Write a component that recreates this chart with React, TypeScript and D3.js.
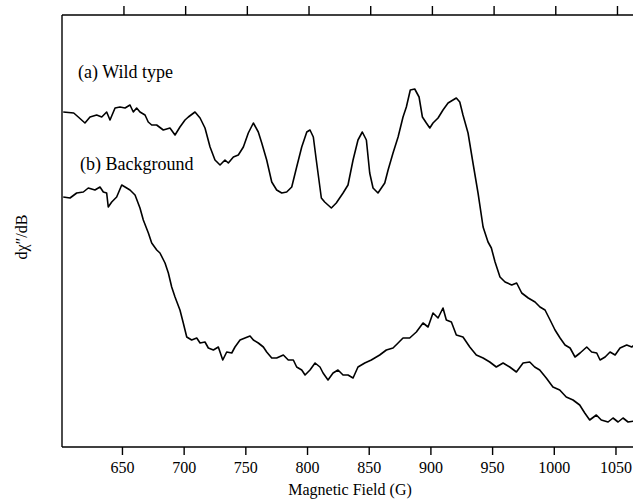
import React from "react";
import * as d3 from "d3";

// Magnetic field (G) and intensity (arbitrary units)
const wildField = [602, 610.5, 614.2, 619.6, 623.7, 629.1, 633.2, 637.2, 639.9, 644, 648, 652.1, 656.1, 658.8, 661.5, 664.2, 668.3, 670.9, 673.7, 677.7, 683.1, 688.5, 692.6, 696.6, 700.7, 703.4, 708.8, 712.9, 716.9, 721, 725, 729.1, 733.1, 735.8, 739.9, 743.9, 748, 752, 756.1, 760.1, 762.9, 766.9, 771, 775, 779.1, 783.1, 787.2, 791.2, 795.3, 799.4, 802, 804.7, 807.1, 811.2, 813.9, 819.3, 823.3, 828.8, 832.8, 836.9, 840.9, 844.4, 847.7, 850.4, 853.1, 857.1, 862.6, 865.3, 869.3, 873.4, 877.4, 880.1, 883.3, 886.9, 890.4, 893.1, 896.3, 899.1, 901.7, 905.8, 909.8, 913.9, 917.9, 920.6, 923.4, 926, 930.1, 934.1, 938.2, 942.3, 946.3, 949, 952, 956, 960.1, 965.5, 969.5, 973.6, 978.9, 984.4, 988.4, 992.5, 996.6, 1000.6, 1004.7, 1008.7, 1012.8, 1016.8, 1020.9, 1026.3, 1030.3, 1034.4, 1037.1, 1041.2, 1045.2, 1049.3, 1053.3, 1058.7, 1062.8, 1065];
const wildValue = [335, 334, 330, 324, 330, 332, 330, 335, 327, 339, 340, 339, 342, 335, 339, 335, 332, 325, 322, 322, 317, 319, 312, 320, 327, 330, 335, 329, 319, 300, 287, 282, 287, 284, 290, 292, 300, 314, 324, 315, 304, 287, 265, 257, 254, 255, 260, 280, 300, 315, 317, 310, 287, 249, 245, 239, 244, 254, 262, 287, 307, 315, 307, 274, 259, 254, 264, 277, 294, 310, 330, 340, 357, 358, 350, 330, 324, 319, 324, 329, 337, 344, 347, 349, 345, 332, 314, 284, 254, 220, 205, 199, 185, 170, 165, 162, 164, 154, 149, 145, 140, 137, 127, 117, 109, 102, 99, 90, 94, 100, 95, 94, 87, 90, 95, 92, 99, 102, 100, 102];

const bgField = [602, 607.5, 612.9, 618.3, 622.3, 627.7, 631.8, 634.5, 637.2, 638.5, 641.3, 645.3, 649.4, 652.1, 656.1, 660.2, 664.2, 666.9, 671, 673.7, 677.8, 680.4, 684.5, 687.2, 689.9, 692.6, 696.6, 699.3, 702.1, 706.1, 710.2, 712.9, 716.9, 719.6, 723.7, 727.7, 731.3, 734.5, 738.6, 741.2, 745.3, 749.3, 753.4, 756.1, 760.1, 764.2, 766.9, 771, 775, 780.4, 784.4, 788.5, 791.2, 795.3, 798, 802, 806.1, 810.1, 812.6, 816.6, 820.7, 824.7, 828.8, 832.8, 836.9, 840.9, 846.4, 851.7, 858.5, 863.9, 869.3, 873.4, 877.4, 882.8, 888.2, 893.6, 897.7, 901.7, 905.8, 909.8, 912.5, 916.6, 920.6, 926, 931.5, 936.8, 942.3, 947.7, 953, 958.5, 963.9, 969.3, 974.7, 980.1, 984.1, 988.2, 993.5, 998.9, 1004.4, 1009.7, 1015.2, 1020.6, 1024.7, 1028.7, 1034.1, 1038.1, 1043.6, 1047.6, 1051.7, 1055.7, 1059.8, 1065];
const bgValue = [250, 249, 254, 255, 259, 257, 260, 255, 254, 240, 245, 250, 262, 260, 257, 252, 239, 227, 214, 204, 197, 194, 184, 174, 160, 150, 137, 124, 110, 107, 109, 104, 105, 99, 97, 100, 87, 95, 94, 100, 107, 109, 111, 107, 104, 100, 95, 89, 89, 92, 87, 87, 80, 77, 72, 77, 84, 80, 74, 67, 74, 77, 72, 72, 69, 80, 84, 87, 92, 97, 99, 104, 109, 109, 115, 124, 120, 134, 129, 139, 127, 125, 112, 110, 100, 92, 89, 85, 80, 84, 80, 75, 84, 85, 80, 77, 69, 60, 57, 50, 47, 42, 34, 27, 32, 27, 25, 29, 25, 29, 25, 26];

const xTicks = [650, 700, 750, 800, 850, 900, 950, 1000, 1050];
const labelA = "(a) Wild type";
const labelB = "(b) Background";
const xTitle = "Magnetic Field (G)";
const yTitle = "dχ″/dB";

export default function App() {
  const W = 633, H = 501;
  const left = 62, top = 15, bottom = 447, right = 633;
  const x = d3.scaleLinear().domain([601, 1063.8]).range([left, right]);
  const y = d3.scaleLinear().domain([0, 432]).range([bottom, top]);
  const line = d3.line<[number, number]>().x(d => x(d[0])).y(d => y(d[1]));
  const a = wildField.map((f, i) => [f, wildValue[i]] as [number, number]);
  const b = bgField.map((f, i) => [f, bgValue[i]] as [number, number]);
  const font = "'Liberation Serif', 'Times New Roman', serif";
  return (
    <svg width={W} height={H} style={{ position: "absolute", left: 0, top: 0, background: "#fff" }}>
      <defs>
        <clipPath id="plot">
          <rect x={left} y={top} width={right - left} height={bottom - top} />
        </clipPath>
      </defs>
      <rect x={0} y={0} width={W} height={H} fill="#fff" />
      <g clipPath="url(#plot)" fill="none" stroke="#000" strokeWidth={1.6} strokeLinejoin="round">
        <path d={line(a) || ""} />
        <path d={line(b) || ""} />
      </g>
      <g stroke="#000" strokeWidth={1.4}>
        <line x1={left} x2={left} y1={top} y2={bottom} />
        <line x1={left} x2={right} y1={top} y2={top} />
        <line x1={left} x2={right} y1={bottom} y2={bottom} />
        {xTicks.map(t => (
          <g key={t}>
            <line x1={x(t)} x2={x(t)} y1={bottom} y2={bottom + 8} />
            <line x1={x(t) + 1.5} x2={x(t) + 1.5} y1={top} y2={top - 9} />
          </g>
        ))}
      </g>
      <g fontFamily={font} fontSize={16} fill="#000">
        {xTicks.map(t => (
          <text key={t} x={x(t)} y={473} textAnchor="middle">{t}</text>
        ))}
        <text x={350} y={495} textAnchor="middle">{xTitle}</text>
        <text transform="translate(27,237) rotate(-90)" textAnchor="middle">{yTitle}</text>
      </g>
      <g fontFamily={font} fontSize={18} fill="#000">
        <text x={78} y={78}>{labelA}</text>
        <text x={80} y={170}>{labelB}</text>
      </g>
    </svg>
  );
}
